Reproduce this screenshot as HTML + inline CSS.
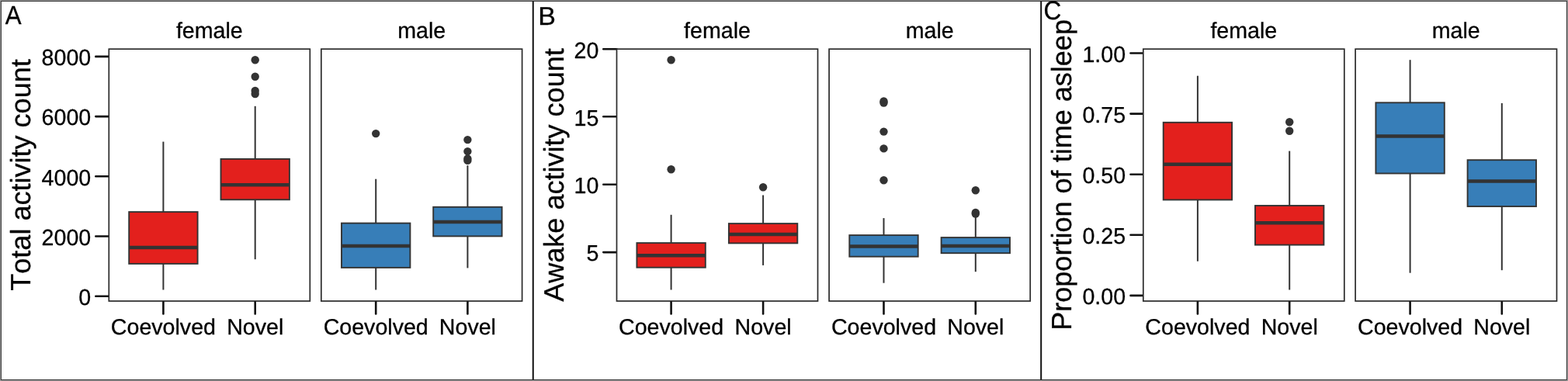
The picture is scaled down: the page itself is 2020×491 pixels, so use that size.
<!DOCTYPE html>
<html><head><meta charset="utf-8"><title>Figure</title>
<style>
html,body{margin:0;padding:0;background:#a0a0a0;}
svg{display:block;font-family:"Liberation Sans",Arial,sans-serif;font-kerning:none;text-rendering:geometricPrecision;}
text{stroke:#000;stroke-width:0.3px;stroke-linejoin:round;}
</style></head>
<body>
<svg width="2020" height="491" viewBox="0 0 2020 491">
<rect x="0" y="0" width="2020" height="491" fill="#a0a0a0"/>
<rect x="1.4" y="1.5" width="2017" height="487.95" fill="#fff" stroke="#333" stroke-width="1.05"/>
<line x1="686.75" y1="1.50" x2="686.75" y2="489.50" stroke="#111111" stroke-width="2.0" stroke-linecap="butt"/>
<line x1="1341.20" y1="1.50" x2="1341.20" y2="489.50" stroke="#111111" stroke-width="2.0" stroke-linecap="butt"/>
<text transform="translate(6.70 30.90) scale(1 1.07)" x="0" y="0" font-size="31.2" text-anchor="start" fill="#000">A</text>
<text x="39.30" y="225.50" font-size="36.05" text-anchor="middle" fill="#000" transform="rotate(-90 39.30 225.50)">Total activity count</text>
<line x1="123.30" y1="72.90" x2="140.30" y2="72.90" stroke="#111111" stroke-width="2.6" stroke-linecap="round"/>
<text transform="translate(117.20 84.10) scale(1 1.015)" x="0" y="0" font-size="28.6" text-anchor="end" fill="#000">8000</text>
<line x1="123.30" y1="150.10" x2="140.30" y2="150.10" stroke="#111111" stroke-width="2.6" stroke-linecap="round"/>
<text transform="translate(117.20 161.30) scale(1 1.015)" x="0" y="0" font-size="28.6" text-anchor="end" fill="#000">6000</text>
<line x1="123.30" y1="227.30" x2="140.30" y2="227.30" stroke="#111111" stroke-width="2.6" stroke-linecap="round"/>
<text transform="translate(117.20 238.50) scale(1 1.015)" x="0" y="0" font-size="28.6" text-anchor="end" fill="#000">4000</text>
<line x1="123.30" y1="304.50" x2="140.30" y2="304.50" stroke="#111111" stroke-width="2.6" stroke-linecap="round"/>
<text transform="translate(117.20 315.70) scale(1 1.015)" x="0" y="0" font-size="28.6" text-anchor="end" fill="#000">2000</text>
<line x1="123.30" y1="381.80" x2="140.30" y2="381.80" stroke="#111111" stroke-width="2.6" stroke-linecap="round"/>
<text transform="translate(117.20 393.00) scale(1 1.015)" x="0" y="0" font-size="28.6" text-anchor="end" fill="#000">0</text>
<rect x="140.30" y="63.20" width="259.00" height="324.80" fill="#fff" stroke="#2a2a2a" stroke-width="1.7"/>
<text x="269.80" y="48.50" font-size="28.6" text-anchor="middle" fill="#000">female</text>
<line x1="210.40" y1="389.20" x2="210.40" y2="404.50" stroke="#111111" stroke-width="2.6" stroke-linecap="round"/>
<text x="210.40" y="431.15" font-size="28.6" text-anchor="middle" fill="#000">Coevolved</text>
<line x1="328.70" y1="389.20" x2="328.70" y2="404.50" stroke="#111111" stroke-width="2.6" stroke-linecap="round"/>
<text x="328.70" y="431.15" font-size="28.6" text-anchor="middle" fill="#000">Novel</text>
<line x1="210.40" y1="182.60" x2="210.40" y2="273.10" stroke="#333333" stroke-width="2.0" stroke-linecap="butt"/>
<line x1="210.40" y1="339.90" x2="210.40" y2="373.50" stroke="#333333" stroke-width="2.0" stroke-linecap="butt"/>
<rect x="166.20" y="273.10" width="88.40" height="66.80" fill="#E3201D" stroke="#333333" stroke-width="1.9"/>
<line x1="166.20" y1="318.90" x2="254.60" y2="318.90" stroke="#333333" stroke-width="4.5" stroke-linecap="butt"/>
<line x1="328.70" y1="136.80" x2="328.70" y2="204.90" stroke="#333333" stroke-width="2.0" stroke-linecap="butt"/>
<line x1="328.70" y1="257.30" x2="328.70" y2="334.20" stroke="#333333" stroke-width="2.0" stroke-linecap="butt"/>
<rect x="284.50" y="204.90" width="88.40" height="52.40" fill="#E3201D" stroke="#333333" stroke-width="1.9"/>
<line x1="284.50" y1="238.20" x2="372.90" y2="238.20" stroke="#333333" stroke-width="4.5" stroke-linecap="butt"/>
<circle cx="328.70" cy="77.20" r="5.2" fill="#333333"/>
<circle cx="328.70" cy="98.70" r="5.2" fill="#333333"/>
<circle cx="328.70" cy="117.00" r="5.2" fill="#333333"/>
<circle cx="328.70" cy="121.00" r="5.2" fill="#333333"/>
<rect x="413.80" y="63.20" width="258.80" height="324.80" fill="#fff" stroke="#2a2a2a" stroke-width="1.7"/>
<text x="543.20" y="48.50" font-size="28.6" text-anchor="middle" fill="#000">male</text>
<line x1="484.20" y1="389.20" x2="484.20" y2="404.50" stroke="#111111" stroke-width="2.6" stroke-linecap="round"/>
<text x="484.20" y="431.15" font-size="28.6" text-anchor="middle" fill="#000">Coevolved</text>
<line x1="602.40" y1="389.20" x2="602.40" y2="404.50" stroke="#111111" stroke-width="2.6" stroke-linecap="round"/>
<text x="602.40" y="431.15" font-size="28.6" text-anchor="middle" fill="#000">Novel</text>
<line x1="484.20" y1="230.70" x2="484.20" y2="287.60" stroke="#333333" stroke-width="2.0" stroke-linecap="butt"/>
<line x1="484.20" y1="344.90" x2="484.20" y2="373.50" stroke="#333333" stroke-width="2.0" stroke-linecap="butt"/>
<rect x="440.00" y="287.60" width="88.40" height="57.30" fill="#377EB8" stroke="#333333" stroke-width="1.9"/>
<line x1="440.00" y1="316.90" x2="528.40" y2="316.90" stroke="#333333" stroke-width="4.5" stroke-linecap="butt"/>
<circle cx="484.20" cy="172.10" r="5.2" fill="#333333"/>
<line x1="602.40" y1="213.20" x2="602.40" y2="266.80" stroke="#333333" stroke-width="2.0" stroke-linecap="butt"/>
<line x1="602.40" y1="304.40" x2="602.40" y2="345.40" stroke="#333333" stroke-width="2.0" stroke-linecap="butt"/>
<rect x="558.20" y="266.80" width="88.40" height="37.60" fill="#377EB8" stroke="#333333" stroke-width="1.9"/>
<line x1="558.20" y1="286.10" x2="646.60" y2="286.10" stroke="#333333" stroke-width="4.5" stroke-linecap="butt"/>
<circle cx="602.40" cy="180.10" r="5.2" fill="#333333"/>
<circle cx="602.40" cy="195.10" r="5.2" fill="#333333"/>
<circle cx="602.40" cy="204.40" r="5.2" fill="#333333"/>
<circle cx="602.40" cy="206.90" r="5.2" fill="#333333"/>
<text transform="translate(693.20 32.40) scale(1 0.975)" x="0" y="0" font-size="34" text-anchor="start" fill="#000">B</text>
<text x="725.60" y="225.50" font-size="36.05" text-anchor="middle" fill="#000" transform="rotate(-90 725.60 225.50)">Awake activity count</text>
<line x1="777.30" y1="63.30" x2="794.50" y2="63.30" stroke="#111111" stroke-width="2.6" stroke-linecap="round"/>
<text transform="translate(771.40 74.50) scale(1 1.015)" x="0" y="0" font-size="28.6" text-anchor="end" fill="#000">20</text>
<line x1="777.30" y1="150.30" x2="794.50" y2="150.30" stroke="#111111" stroke-width="2.6" stroke-linecap="round"/>
<text transform="translate(771.40 161.50) scale(1 1.015)" x="0" y="0" font-size="28.6" text-anchor="end" fill="#000">15</text>
<line x1="777.30" y1="237.70" x2="794.50" y2="237.70" stroke="#111111" stroke-width="2.6" stroke-linecap="round"/>
<text transform="translate(771.40 248.90) scale(1 1.015)" x="0" y="0" font-size="28.6" text-anchor="end" fill="#000">10</text>
<line x1="777.30" y1="325.10" x2="794.50" y2="325.10" stroke="#111111" stroke-width="2.6" stroke-linecap="round"/>
<text transform="translate(771.40 336.30) scale(1 1.015)" x="0" y="0" font-size="28.6" text-anchor="end" fill="#000">5</text>
<rect x="794.50" y="63.20" width="259.00" height="324.80" fill="#fff" stroke="#2a2a2a" stroke-width="1.7"/>
<text x="924.00" y="48.50" font-size="28.6" text-anchor="middle" fill="#000">female</text>
<line x1="864.60" y1="389.20" x2="864.60" y2="404.50" stroke="#111111" stroke-width="2.6" stroke-linecap="round"/>
<text x="864.60" y="431.15" font-size="28.6" text-anchor="middle" fill="#000">Coevolved</text>
<line x1="983.10" y1="389.20" x2="983.10" y2="404.50" stroke="#111111" stroke-width="2.6" stroke-linecap="round"/>
<text x="983.10" y="431.15" font-size="28.6" text-anchor="middle" fill="#000">Novel</text>
<line x1="864.60" y1="276.80" x2="864.60" y2="313.10" stroke="#333333" stroke-width="2.0" stroke-linecap="butt"/>
<line x1="864.60" y1="344.70" x2="864.60" y2="373.50" stroke="#333333" stroke-width="2.0" stroke-linecap="butt"/>
<rect x="820.40" y="313.10" width="88.40" height="31.60" fill="#E3201D" stroke="#333333" stroke-width="1.9"/>
<line x1="820.40" y1="329.20" x2="908.80" y2="329.20" stroke="#333333" stroke-width="4.5" stroke-linecap="butt"/>
<circle cx="864.60" cy="77.20" r="5.2" fill="#333333"/>
<circle cx="864.60" cy="218.20" r="5.2" fill="#333333"/>
<line x1="983.10" y1="251.50" x2="983.10" y2="288.10" stroke="#333333" stroke-width="2.0" stroke-linecap="butt"/>
<line x1="983.10" y1="313.40" x2="983.10" y2="341.90" stroke="#333333" stroke-width="2.0" stroke-linecap="butt"/>
<rect x="938.90" y="288.10" width="88.40" height="25.30" fill="#E3201D" stroke="#333333" stroke-width="1.9"/>
<line x1="938.90" y1="301.90" x2="1027.30" y2="301.90" stroke="#333333" stroke-width="4.5" stroke-linecap="butt"/>
<circle cx="983.10" cy="241.20" r="5.2" fill="#333333"/>
<rect x="1068.10" y="63.20" width="259.10" height="324.80" fill="#fff" stroke="#2a2a2a" stroke-width="1.7"/>
<text x="1197.65" y="48.50" font-size="28.6" text-anchor="middle" fill="#000">male</text>
<line x1="1138.50" y1="389.20" x2="1138.50" y2="404.50" stroke="#111111" stroke-width="2.6" stroke-linecap="round"/>
<text x="1138.50" y="431.15" font-size="28.6" text-anchor="middle" fill="#000">Coevolved</text>
<line x1="1256.80" y1="389.20" x2="1256.80" y2="404.50" stroke="#111111" stroke-width="2.6" stroke-linecap="round"/>
<text x="1256.80" y="431.15" font-size="28.6" text-anchor="middle" fill="#000">Novel</text>
<line x1="1138.50" y1="281.10" x2="1138.50" y2="303.10" stroke="#333333" stroke-width="2.0" stroke-linecap="butt"/>
<line x1="1138.50" y1="330.70" x2="1138.50" y2="364.70" stroke="#333333" stroke-width="2.0" stroke-linecap="butt"/>
<rect x="1094.30" y="303.10" width="88.40" height="27.60" fill="#377EB8" stroke="#333333" stroke-width="1.9"/>
<line x1="1094.30" y1="317.60" x2="1182.70" y2="317.60" stroke="#333333" stroke-width="4.5" stroke-linecap="butt"/>
<circle cx="1138.50" cy="130.50" r="5.2" fill="#333333"/>
<circle cx="1138.50" cy="132.50" r="5.2" fill="#333333"/>
<circle cx="1138.50" cy="169.60" r="5.2" fill="#333333"/>
<circle cx="1138.50" cy="191.40" r="5.2" fill="#333333"/>
<circle cx="1138.50" cy="232.20" r="5.2" fill="#333333"/>
<line x1="1256.80" y1="279.80" x2="1256.80" y2="306.10" stroke="#333333" stroke-width="2.0" stroke-linecap="butt"/>
<line x1="1256.80" y1="326.20" x2="1256.80" y2="350.20" stroke="#333333" stroke-width="2.0" stroke-linecap="butt"/>
<rect x="1212.60" y="306.10" width="88.40" height="20.10" fill="#377EB8" stroke="#333333" stroke-width="1.9"/>
<line x1="1212.60" y1="316.90" x2="1301.00" y2="316.90" stroke="#333333" stroke-width="4.5" stroke-linecap="butt"/>
<circle cx="1256.80" cy="245.20" r="5.2" fill="#333333"/>
<circle cx="1256.80" cy="274.00" r="5.2" fill="#333333"/>
<circle cx="1256.80" cy="275.50" r="5.2" fill="#333333"/>
<text transform="translate(1344.60 25.10) scale(1 1.068)" x="0" y="0" font-size="31.5" text-anchor="start" fill="#000">C</text>
<text x="1379.80" y="225.40" font-size="36.05" text-anchor="middle" fill="#000" transform="rotate(-90 1379.80 225.40)">Proportion of time asleep</text>
<line x1="1456.50" y1="68.50" x2="1472.80" y2="68.50" stroke="#111111" stroke-width="2.6" stroke-linecap="round"/>
<text transform="translate(1450.10 79.70) scale(1 1.015)" x="0" y="0" font-size="28.6" text-anchor="end" fill="#000">1.00</text>
<line x1="1456.50" y1="146.60" x2="1472.80" y2="146.60" stroke="#111111" stroke-width="2.6" stroke-linecap="round"/>
<text transform="translate(1450.10 157.80) scale(1 1.015)" x="0" y="0" font-size="28.6" text-anchor="end" fill="#000">0.75</text>
<line x1="1456.50" y1="224.70" x2="1472.80" y2="224.70" stroke="#111111" stroke-width="2.6" stroke-linecap="round"/>
<text transform="translate(1450.10 235.90) scale(1 1.015)" x="0" y="0" font-size="28.6" text-anchor="end" fill="#000">0.50</text>
<line x1="1456.50" y1="302.80" x2="1472.80" y2="302.80" stroke="#111111" stroke-width="2.6" stroke-linecap="round"/>
<text transform="translate(1450.10 314.00) scale(1 1.015)" x="0" y="0" font-size="28.6" text-anchor="end" fill="#000">0.25</text>
<line x1="1456.50" y1="380.90" x2="1472.80" y2="380.90" stroke="#111111" stroke-width="2.6" stroke-linecap="round"/>
<text transform="translate(1450.10 392.10) scale(1 1.015)" x="0" y="0" font-size="28.6" text-anchor="end" fill="#000">0.00</text>
<rect x="1472.80" y="63.20" width="259.00" height="324.80" fill="#fff" stroke="#2a2a2a" stroke-width="1.7"/>
<text x="1602.30" y="48.50" font-size="28.6" text-anchor="middle" fill="#000">female</text>
<line x1="1542.90" y1="389.20" x2="1542.90" y2="404.50" stroke="#111111" stroke-width="2.6" stroke-linecap="round"/>
<text x="1542.90" y="431.15" font-size="28.6" text-anchor="middle" fill="#000">Coevolved</text>
<line x1="1661.20" y1="389.20" x2="1661.20" y2="404.50" stroke="#111111" stroke-width="2.6" stroke-linecap="round"/>
<text x="1661.20" y="431.15" font-size="28.6" text-anchor="middle" fill="#000">Novel</text>
<line x1="1542.90" y1="97.70" x2="1542.90" y2="157.80" stroke="#333333" stroke-width="2.0" stroke-linecap="butt"/>
<line x1="1542.90" y1="257.50" x2="1542.90" y2="336.70" stroke="#333333" stroke-width="2.0" stroke-linecap="butt"/>
<rect x="1498.70" y="157.80" width="88.40" height="99.70" fill="#E3201D" stroke="#333333" stroke-width="1.9"/>
<line x1="1498.70" y1="211.70" x2="1587.10" y2="211.70" stroke="#333333" stroke-width="4.5" stroke-linecap="butt"/>
<line x1="1661.20" y1="194.60" x2="1661.20" y2="265.00" stroke="#333333" stroke-width="2.0" stroke-linecap="butt"/>
<line x1="1661.20" y1="315.60" x2="1661.20" y2="373.50" stroke="#333333" stroke-width="2.0" stroke-linecap="butt"/>
<rect x="1617.00" y="265.00" width="88.40" height="50.60" fill="#E3201D" stroke="#333333" stroke-width="1.9"/>
<line x1="1617.00" y1="287.30" x2="1705.40" y2="287.30" stroke="#333333" stroke-width="4.5" stroke-linecap="butt"/>
<circle cx="1661.20" cy="157.30" r="5.2" fill="#333333"/>
<circle cx="1661.20" cy="168.80" r="5.2" fill="#333333"/>
<rect x="1746.10" y="63.20" width="259.40" height="324.80" fill="#fff" stroke="#2a2a2a" stroke-width="1.7"/>
<text x="1875.80" y="48.50" font-size="28.6" text-anchor="middle" fill="#000">male</text>
<line x1="1816.60" y1="389.20" x2="1816.60" y2="404.50" stroke="#111111" stroke-width="2.6" stroke-linecap="round"/>
<text x="1816.60" y="431.15" font-size="28.6" text-anchor="middle" fill="#000">Coevolved</text>
<line x1="1934.80" y1="389.20" x2="1934.80" y2="404.50" stroke="#111111" stroke-width="2.6" stroke-linecap="round"/>
<text x="1934.80" y="431.15" font-size="28.6" text-anchor="middle" fill="#000">Novel</text>
<line x1="1816.60" y1="77.20" x2="1816.60" y2="132.30" stroke="#333333" stroke-width="2.0" stroke-linecap="butt"/>
<line x1="1816.60" y1="223.50" x2="1816.60" y2="351.70" stroke="#333333" stroke-width="2.0" stroke-linecap="butt"/>
<rect x="1772.40" y="132.30" width="88.40" height="91.20" fill="#377EB8" stroke="#333333" stroke-width="1.9"/>
<line x1="1772.40" y1="175.40" x2="1860.80" y2="175.40" stroke="#333333" stroke-width="4.5" stroke-linecap="butt"/>
<line x1="1934.80" y1="133.00" x2="1934.80" y2="206.20" stroke="#333333" stroke-width="2.0" stroke-linecap="butt"/>
<line x1="1934.80" y1="266.00" x2="1934.80" y2="348.20" stroke="#333333" stroke-width="2.0" stroke-linecap="butt"/>
<rect x="1890.60" y="206.20" width="88.40" height="59.80" fill="#377EB8" stroke="#333333" stroke-width="1.9"/>
<line x1="1890.60" y1="233.50" x2="1979.00" y2="233.50" stroke="#333333" stroke-width="4.5" stroke-linecap="butt"/>
</svg>
</body></html>
